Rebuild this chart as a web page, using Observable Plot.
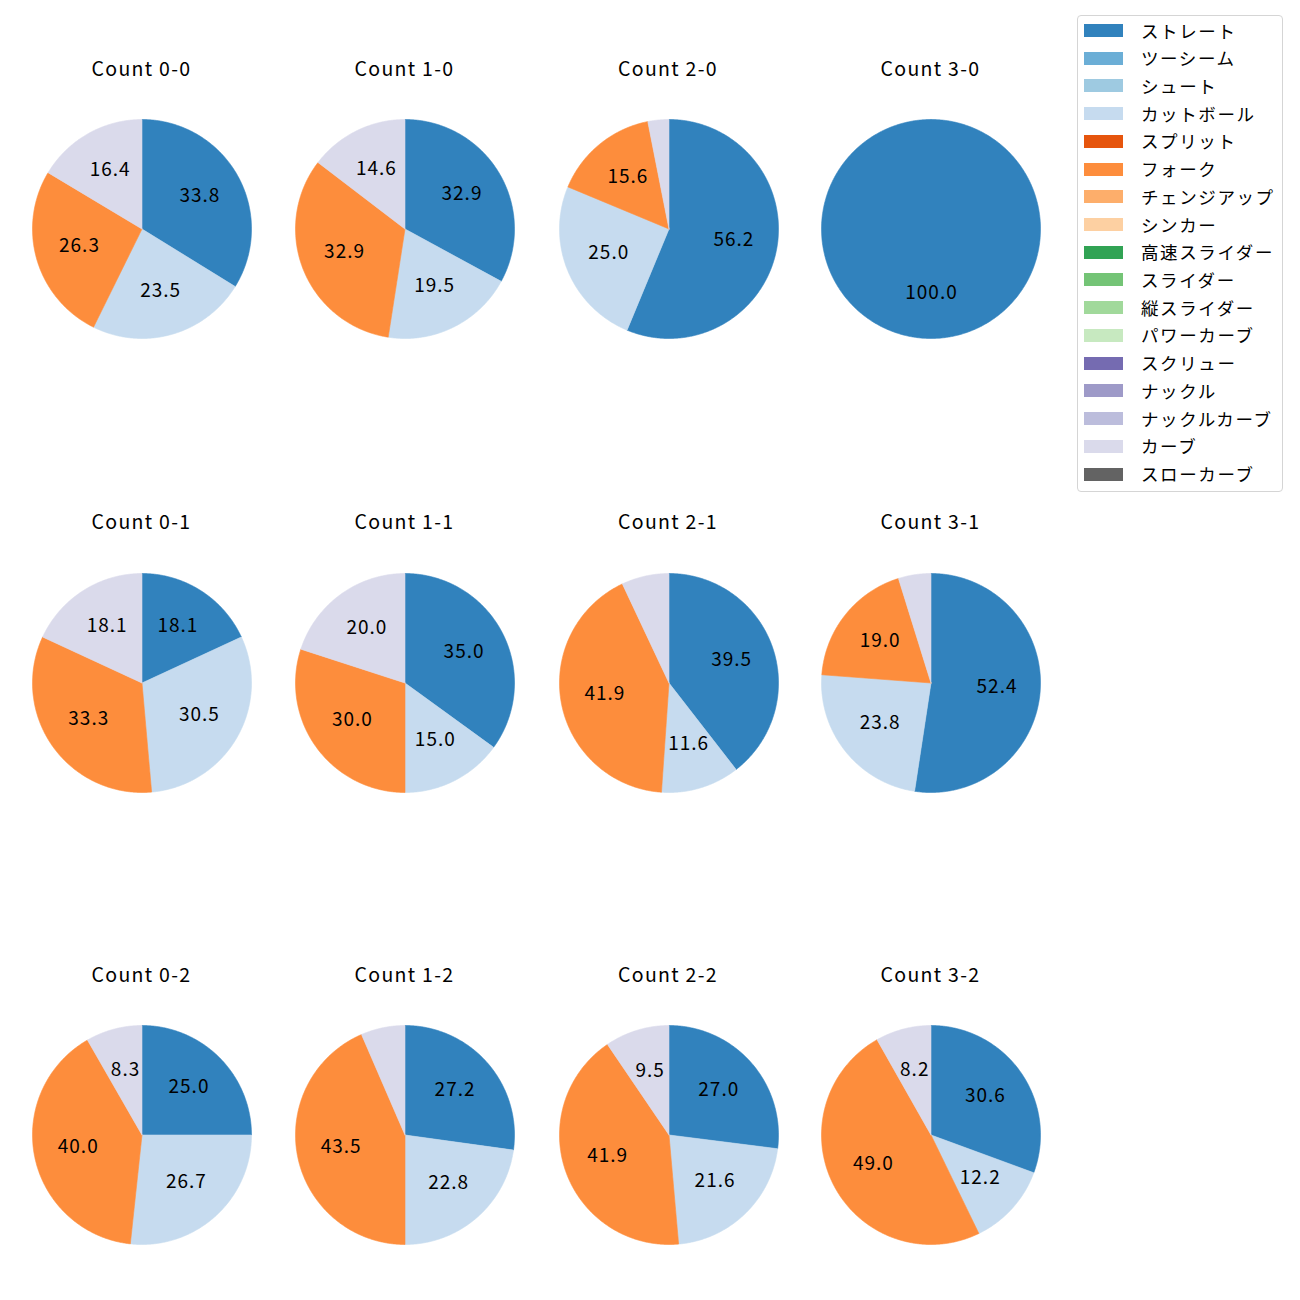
<!DOCTYPE html>
<html><head><meta charset="utf-8">
<script src="https://cdn.jsdelivr.net/npm/d3@7"></script>
<script src="https://cdn.jsdelivr.net/npm/@observablehq/plot@0.6"></script>
<style>
body{margin:0;background:#fff;font-family:"Noto Sans CJK JP","Noto Sans",sans-serif;}
#root{position:relative;width:1300px;height:1300px;overflow:hidden}
.title{position:absolute;transform:translate(-50%,-50%);font-size:19.5px;letter-spacing:1.3px;white-space:nowrap;color:#000;line-height:1}
.pie{position:absolute}
.legend{position:absolute;left:1077px;top:15px;width:206px;height:477px;border:1px solid #d5d5d5;border-radius:4px;box-sizing:border-box;background:#fff}
.sw{position:absolute;left:6px;width:39px;height:13px}
.lt{position:absolute;left:63px;font-size:17.5px;letter-spacing:1.6px;line-height:1;transform:translateY(-50%);white-space:nowrap;color:#000}
</style></head><body><div id="root"></div>
<script>
// ---- data ----
const pitchTypes = ["ストレート","ツーシーム","シュート","カットボール","スプリット","フォーク","チェンジアップ","シンカー","高速スライダー","スライダー","縦スライダー","パワーカーブ","スクリュー","ナックル","ナックルカーブ","カーブ","スローカーブ"];
const pitchColors = ["#3182bd","#6baed6","#9ecae1","#c6dbef","#e6550d","#fd8d3c","#fdae6b","#fdd0a2","#31a354","#74c476","#a1d99b","#c7e9c0","#756bb1","#9e9ac8","#bcbddc","#dadaeb","#636363"];
const counts = ["0-0","1-0","2-0","3-0","0-1","1-1","2-1","3-1","0-2","1-2","2-2","3-2"];
const straight = [33.8, 32.9, 56.2, 100.0, 18.1, 35.0, 39.5, 52.4, 25.0, 27.2, 27.0, 30.6];
const cutter   = [23.5, 19.5, 25.0,   0.0, 30.5, 15.0, 11.6, 23.8, 26.7, 22.8, 21.6, 12.2];
const fork     = [26.3, 32.9, 15.6,   0.0, 33.3, 30.0, 41.9, 19.0, 40.0, 43.5, 41.9, 49.0];
const curve    = [16.4, 14.6,  3.1,   0.0, 18.1, 20.0,  7.0,  4.8,  8.3,  6.5,  9.5,  8.2];
const labelMin = 8;

// ---- layout ----
const colX = [141.5, 404.5, 668, 930.5];
const rowY = [228.5, 682, 1134.5];
const titleOffset = 161;
const R = 109.5, M = 10, S = 2*R + 2*M;
const root = document.getElementById("root");

counts.forEach((c, i) => {
  const slices = [
    {type: "ストレート", value: straight[i]},
    {type: "カットボール", value: cutter[i]},
    {type: "フォーク", value: fork[i]},
    {type: "カーブ", value: curve[i]}
  ].filter(d => d.value > 0);
  const arcs = d3.pie().sort(null).value(d => d.value)(slices);
  const pts = [], labels = [];
  arcs.forEach((a, k) => {
    const span = a.endAngle - a.startAngle;
    const n = Math.max(2, Math.ceil(span / (Math.PI/360)));
    const full = span >= 2*Math.PI - 1e-9;
    if (!full) pts.push({key: k, type: a.data.type, x: 0, y: 0});
    for (let j = 0; j <= n; j++) {
      const t = a.startAngle + span * j / n;
      pts.push({key: k, type: a.data.type, x: Math.sin(t), y: Math.cos(t)});
    }
    if (!full) pts.push({key: k, type: a.data.type, x: 0, y: 0});
    const mid = (a.startAngle + a.endAngle) / 2;
    if (a.data.value >= labelMin) labels.push({x: 0.6*Math.sin(mid), y: 0.6*Math.cos(mid), text: a.data.value.toFixed(1)});
  });
  const plot = Plot.plot({
    width: S, height: S, margin: M,
    x: {domain: [-1, 1], axis: null},
    y: {domain: [-1, 1], axis: null},
    color: {domain: pitchTypes, range: pitchColors},
    style: {fontFamily: '"Noto Sans CJK JP","Noto Sans",sans-serif', background: "transparent", overflow: "visible"},
    marks: [
      Plot.line(pts, {x: "x", y: "y", z: "key", fill: "type", stroke: "type", strokeWidth: 0.6, curve: "linear"}),
      Plot.text(labels, {x: "x", y: "y", text: "text", fontSize: 19, fill: "#000", dx: 0.5, dy: -1.5})
    ]
  });
  plot.querySelectorAll("text").forEach(el => el.setAttribute("letter-spacing", "1"));
  const col = i % 4, row = Math.floor(i / 4);
  const wrap = document.createElement("div");
  wrap.className = "pie";
  wrap.style.left = (colX[col] - S/2) + "px";
  wrap.style.top = (rowY[row] - S/2) + "px";
  wrap.appendChild(plot);
  root.appendChild(wrap);
  const t = document.createElement("div");
  t.className = "title";
  t.textContent = "Count " + c;
  t.style.left = colX[col] + "px";
  t.style.top = (rowY[row] - titleOffset) + "px";
  root.appendChild(t);
});

// ---- legend ----
const leg = document.createElement("div");
leg.className = "legend";
const step = 27.72, firstY = 14.5;
pitchTypes.forEach((p, i) => {
  const sw = document.createElement("div");
  sw.className = "sw";
  sw.style.background = pitchColors[i];
  sw.style.top = (firstY + i*step - 6.5) + "px";
  leg.appendChild(sw);
  const tx = document.createElement("div");
  tx.className = "lt";
  tx.textContent = p;
  tx.style.top = (firstY + i*step) + "px";
  leg.appendChild(tx);
});
root.appendChild(leg);
</script></body></html>
